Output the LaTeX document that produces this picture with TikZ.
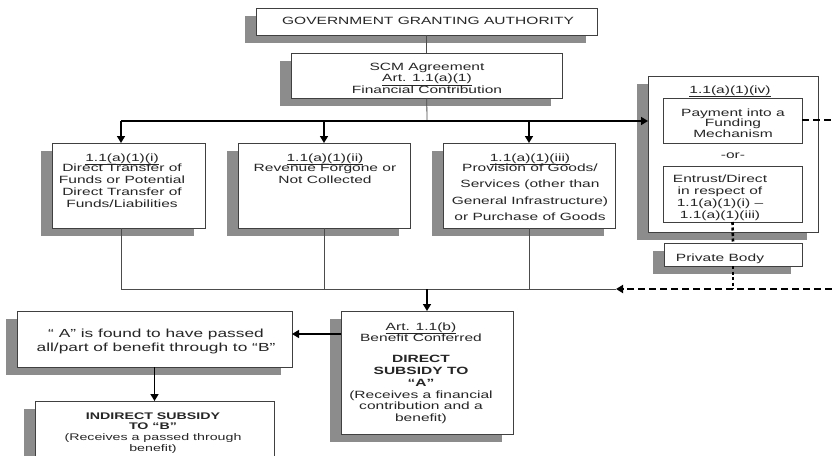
\documentclass[tikz,border=0pt]{standalone}
\usepackage{fontspec}
\setmainfont{Liberation Sans}
\usepackage{graphicx}
\usetikzlibrary{shadows}
\usetikzlibrary{arrows.meta}
\newcommand{\wtext}[1]{\scalebox{1.48}[1]{\begin{tabular}[t]{@{}c@{}}#1\end{tabular}}}

\begin{document}
\begin{tikzpicture}[x=1pt,y=-1pt,
    >={Triangle[length=7pt,width=8pt]},
    box/.style={draw=black!75,line width=0.8pt,fill=white,inner sep=0pt,outer sep=0pt,
      drop shadow={shadow xshift=-11pt,shadow yshift=-8pt,fill=black!45,opacity=1}},
    inbox/.style={draw=black!75,line width=0.8pt,fill=white,inner sep=0pt,outer sep=0pt},
    txt/.style={inner sep=0pt,anchor=base,text=black!85,font=\fontsize{10.5}{11.8}\selectfont},
    thin/.style={line width=0.8pt,black!70},
    heavy/.style={line width=1.6pt,black},
    flow/.style={line width=2pt,black,dash pattern=on 7pt off 4pt},
    dots/.style={line width=2.6pt,black,dash pattern=on 3pt off 2.5pt}]
  \clip (0,0) rectangle (832,455);
  \fill[white] (0,0) rectangle (832,455);
  % boxes
  \node[box,minimum width=341,minimum height=27] (gov) at (426.5,21.5) {};
  \node[box,minimum width=271,minimum height=45] (scm) at (426.5,75.5) {};
  \node[box,minimum width=153,minimum height=85] (bi) at (128.5,185.5) {};
  \node[box,minimum width=172,minimum height=85] (bii) at (324,185.5) {};
  \node[box,minimum width=172,minimum height=85] (biii) at (529,185.5) {};
  \node[box,minimum width=170,minimum height=156] (biv) at (733,154) {};
  \node[inbox,minimum width=139,minimum height=45] (pay) at (732.5,120.5) {};
  \node[inbox,minimum width=139,minimum height=56] (ent) at (732.5,194) {};
  \node[box,minimum width=138,minimum height=23] (priv) at (733,254.5) {};
  \node[box,minimum width=172,minimum height=123] (art) at (427,372.5) {};
  \node[box,minimum width=275,minimum height=56] (pass) at (154.5,339) {};
  \node[box,minimum width=239,minimum height=69] (ind) at (154.5,435.5) {};
  % texts
  \node[txt] (gov-t) at (428,24.5) {\wtext{GOVERNMENT GRANTING AUTHORITY}};
  \node[txt] (scm-t) at (427,70) {\wtext{SCM Agreement\\[-0.3pt] \underline{Art. 1.1(a)(1)}\\[-0.3pt] Financial Contribution}};
  \node[txt] (bi-t) at (122,161) {\wtext{\underline{1.1(a)(1)(i)}\\[-1.8pt] Direct Transfer of\\ Funds or Potential\\ Direct Transfer of\\ Funds/Liabilities}};
  \node[txt] (bii-t) at (325,161) {\wtext{\underline{1.1(a)(1)(ii)}\\[-1.8pt] Revenue Forgone or\\ Not Collected}};
  \node[txt] (biii-t) at (530,161) {\wtext{\underline{1.1(a)(1)(iii)}\\[-1.8pt] Provision of Goods/\\[4.5pt] Services (other than\\[4.5pt] General Infrastructure)\\[4.5pt] or Purchase of Goods}};
  \node[txt] (biv-t) at (730,93) {\wtext{\underline{1.1(a)(1)(iv)}}};
  \node[txt] (pay-t) at (733,116) {\wtext{Payment into a\\[-1.3pt] Funding\\[-1.3pt] Mechanism}};
  \node[txt] (or-t) at (733,158) {\wtext{-or-}};
  \node[txt] (ent-t) at (720,182.5) {\wtext{Entrust/Direct\\ in respect of\\[0.5pt] 1.1(a)(1)(i) --\\ 1.1(a)(1)(iii)}};
  \node[txt] (priv-t) at (720,261) {\wtext{Private Body}};
  \node[txt] (art-t) at (421,330) {\wtext{\underline{Art. 1.1(b)}\\[-0.8pt] Benefit Conferred\\[9.2pt] \textbf{DIRECT}\\ \textbf{SUBSIDY TO}\\ \textbf{“A”}\\ (Receives a financial\\ contribution and a\\ benefit)}};
  \node[txt,font=\fontsize{11.7}{11.8}\selectfont] (pass-t) at (156,337) {\wtext{“ A” is found to have passed\\[2.2pt] all/part of benefit through to “B”}};
  \node[txt,font=\fontsize{9.6}{11}\selectfont] (ind-t) at (153,419.5) {\wtext{\textbf{INDIRECT SUBSIDY}\\[-1pt] \textbf{TO “B”}\\ (Receives a passed through\\ benefit)}};
  % junctions
  \coordinate (bus) at (427,121);
  \coordinate (busL) at (121,121);
  \coordinate (col) at (427,289);
  \coordinate (colL) at (121,289);
  \coordinate (dashend) at (616,289);
  \coordinate (edgeR) at (832,289);
  \coordinate (payR) at (832,120);
  \coordinate (artw) at (341,334);
  % connectors
  \path[thin]
    (gov) edge (scm)
    (scm) edge (bus)
    (bi.south -| busL) edge (colL)
    (bii.south) edge (bii.south |- colL)
    (biii.south) edge (biii.south |- colL)
    (colL) edge (dashend);
  \path[heavy,->]
    (busL) edge (busL -| biv.west)
    (busL) edge (busL |- bi.north)
    (bii.north |- busL) edge (bii.north)
    (biii.north |- busL) edge (biii.north)
    (col) edge (art)
    (pass) edge (ind);
  \path[->,line width=1.2pt,black]
    (artw) edge (artw -| pass.east);
  \path[flow]
    (pay.east |- payR) edge (payR)
    (edgeR) edge[->] (dashend);
  \path[dots]
    (ent.south) edge (priv.north)
    (priv.south) edge (priv.south |- edgeR);
\end{tikzpicture}
\end{document}
